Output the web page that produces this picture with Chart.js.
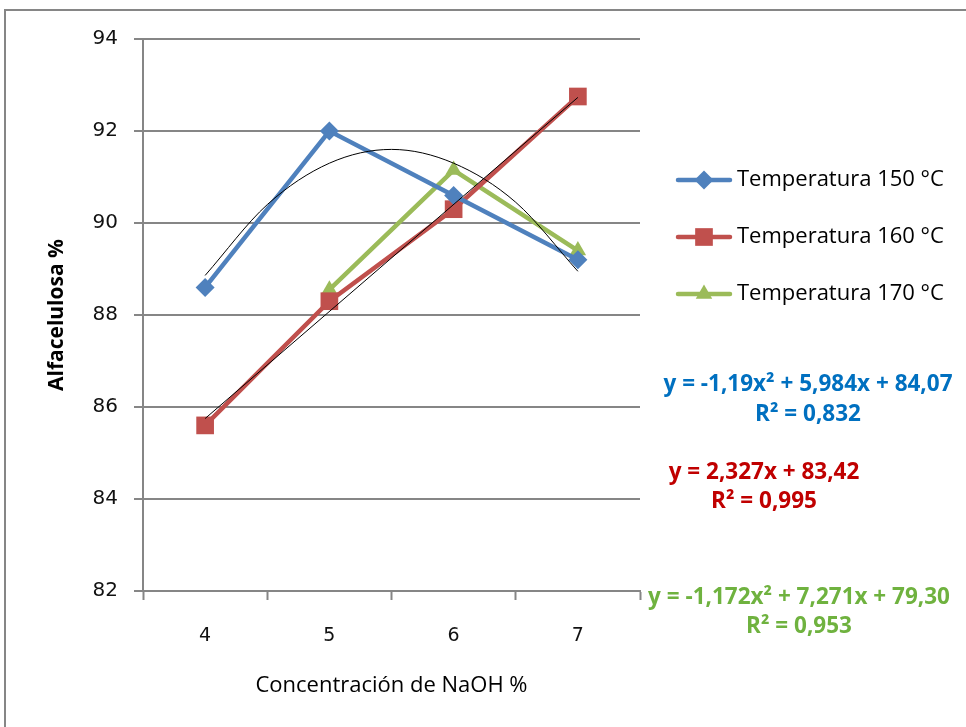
<!DOCTYPE html>
<html>
<head>
<meta charset="utf-8">
<script src="https://cdn.jsdelivr.net/npm/chart.js@4.4.1/dist/chart.umd.min.js"></script>
<style>
  html, body { margin: 0; padding: 0; background: #fff; }
</style>
</head>
<body>
<canvas id="alfaChart" width="966" height="727"></canvas>
<script>
// values
const concentrations = [4, 5, 6, 7];
const temp150 = [88.6, 92.0, 90.6, 89.2];
const temp160 = [85.6, 88.3, 90.3, 92.75];
const temp170 = [null, 88.55, 91.15, 89.4];

// black trendlines as they appear on the picture
const trend150X = [4, 4.5, 5, 5.5, 6, 6.5, 7];
const trend150Y = [88.86, 90.4, 91.3, 91.6, 91.3, 90.45, 88.95];
const trend160X = [4, 7];
const trend160Y = [85.75, 92.73];

const seriesNames = ['Temperatura 150 °C', 'Temperatura 160 °C', 'Temperatura 170 °C'];
const seriesColors = ['#4F81BD', '#C0504D', '#9BBB59'];
const seriesMarkers = ['rectRot', 'rect', 'triangle'];

const equations = [
  { lines: ['y = -1,19x² + 5,984x + 84,07', 'R² = 0,832'], color: '#0070C0' },
  { lines: ['y = 2,327x + 83,42', 'R² = 0,995'], color: '#C00000' },
  { lines: ['y = -1,172x² + 7,271x + 79,30', 'R² = 0,953'], color: '#6FB23F' }
];

const xTicks = [3.5, 4, 4.5, 5, 5.5, 6, 6.5, 7, 7.5];

const toPoints = (xs, ys) => xs.map((x, i) => ({ x, y: ys[i] }));

const drawMarker = (ctx, style, x, y, r, color) => {
  ctx.save();
  ctx.fillStyle = color;
  ctx.beginPath();
  if (style === 'rectRot') {
    ctx.moveTo(x - r, y); ctx.lineTo(x, y - r); ctx.lineTo(x + r, y); ctx.lineTo(x, y + r);
  } else if (style === 'rect') {
    const s = r * Math.SQRT1_2;
    ctx.rect(x - s, y - s, 2 * s, 2 * s);
  } else {
    ctx.moveTo(x, y - r); ctx.lineTo(x + r * 0.866, y + r / 2); ctx.lineTo(x - r * 0.866, y + r / 2);
  }
  ctx.closePath();
  ctx.fill();
  ctx.restore();
};

const notesPlugin = {
  id: 'notes',
  beforeDraw(chart) {
    const ctx = chart.ctx;
    ctx.save();
    ctx.strokeStyle = '#868686';
    ctx.lineWidth = 2;
    ctx.beginPath();
    ctx.moveTo(5, 727); ctx.lineTo(5, 10); ctx.lineTo(966, 10);
    ctx.stroke();
    ctx.restore();
  },
  afterDraw(chart) {
    const ctx = chart.ctx;
    ctx.save();
    // legend
    const legendY = [180, 237, 294];
    seriesNames.forEach((name, i) => {
      ctx.strokeStyle = seriesColors[i];
      ctx.lineWidth = 4.5;
      ctx.lineCap = 'round';
      ctx.beginPath();
      ctx.moveTo(678, legendY[i]); ctx.lineTo(730, legendY[i]);
      ctx.stroke();
      drawMarker(ctx, seriesMarkers[i], 704, legendY[i], seriesMarkers[i] === 'rect' ? 12.5 : 9.5, seriesColors[i]);
      ctx.fillStyle = '#000';
      ctx.font = '22px "Open Sans", sans-serif';
      ctx.textAlign = 'left';
      ctx.textBaseline = 'middle';
      ctx.fillText(name, 737, legendY[i]);
    });
    // trendline equations
    const eqPos = [
      { x: 808, y: [385, 415] },
      { x: 764, y: [473, 502] },
      { x: 799, y: [598, 627] }
    ];
    ctx.font = 'bold 22.5px "Open Sans", sans-serif';
    ctx.textAlign = 'center';
    ctx.textBaseline = 'middle';
    equations.forEach((eq, i) => {
      ctx.fillStyle = eq.color;
      eq.lines.forEach((t, j) => ctx.fillText(t, eqPos[i].x, eqPos[i].y[j]));
    });
    ctx.restore();
  }
};

const lineSet = (label, data, i) => ({
  label,
  data,
  borderColor: seriesColors[i],
  backgroundColor: seriesColors[i],
  borderWidth: 4.5,
  pointStyle: seriesMarkers[i],
  pointRadius: seriesMarkers[i] === 'rect' ? 12.5 : 9.5,
  pointBorderWidth: 0,
  tension: 0
});

new Chart(document.getElementById('alfaChart'), {
  type: 'line',
  data: {
    datasets: [
      {
        label: 'trend150',
        data: toPoints(trend150X, trend150Y),
        borderColor: '#000',
        borderWidth: 1,
        pointRadius: 0,
        cubicInterpolationMode: 'monotone'
      },
      {
        label: 'trend160',
        data: toPoints(trend160X, trend160Y),
        borderColor: '#000',
        borderWidth: 1,
        pointRadius: 0
      },
      lineSet(seriesNames[0], toPoints(concentrations, temp150), 0),
      lineSet(seriesNames[1], toPoints(concentrations, temp160), 1),
      lineSet(seriesNames[2], toPoints(concentrations, temp170), 2)
    ]
  },
  options: {
    responsive: false,
    devicePixelRatio: 1,
    animation: false,
    layout: { padding: { top: 39, right: 326, left: 0, bottom: 0 } },
    plugins: { legend: { display: false }, tooltip: { enabled: false } },
    scales: {
      x: {
        type: 'linear',
        min: 3.5,
        max: 7.5,
        afterBuildTicks: (scale) => { scale.ticks = xTicks.map(v => ({ value: v })); },
        afterFit: (scale) => { scale.height = 136; },
        grid: {
          drawOnChartArea: false,
          drawTicks: true,
          tickLength: 9,
          tickWidth: 2,
          tickColor: (c) => (c.tick && Number.isInteger(c.tick.value) ? 'rgba(0,0,0,0)' : '#868686')
        },
        border: { color: '#868686', width: 2 },
        ticks: {
          autoSkip: false,
          maxRotation: 0,
          padding: 25,
          color: '#111',
          font: { family: 'DejaVu Sans', size: 19 },
          callback: (v) => (Number.isInteger(v) ? String(v) : '')
        },
        title: {
          display: true,
          text: 'Concentración de NaOH %',
          color: '#000',
          font: { family: '"Open Sans", sans-serif', size: 22 },
          padding: { top: 0, bottom: 28 }
        }
      },
      y: {
        min: 82,
        max: 94,
        ticks: {
          stepSize: 2,
          padding: 16,
          color: '#111',
          font: { family: 'DejaVu Sans', size: 20 }
        },
        afterFit: (scale) => { scale.width = 143; },
        grid: {
          color: '#868686',
          lineWidth: 2,
          tickLength: 9
        },
        border: { color: '#868686', width: 2 },
        title: {
          display: true,
          text: 'Alfacelulosa %',
          color: '#000',
          font: { family: '"Open Sans", sans-serif', size: 21, weight: 'bold' },
          padding: { top: 44, bottom: 0 }
        }
      }
    }
  },
  plugins: [notesPlugin]
});
</script>
</body>
</html>
